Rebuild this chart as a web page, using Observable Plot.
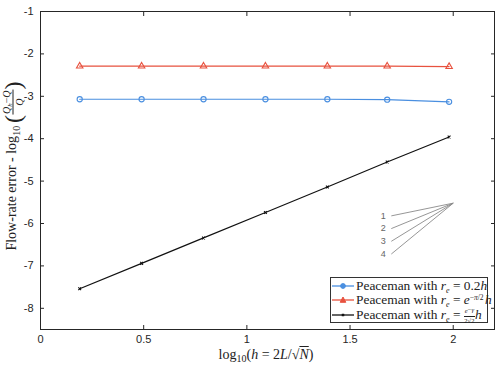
<!DOCTYPE html>
<html>
<head>
<meta charset="utf-8">
<script src="https://cdn.jsdelivr.net/npm/d3@7"></script>
<script src="https://cdn.jsdelivr.net/npm/@observablehq/plot@0.6"></script>
<style>
  html, body { margin: 0; padding: 0; background: #fff; }
  #chart { position: relative; width: 501px; height: 366px; }
  .math { font-family: "Liberation Serif", "DejaVu Serif", serif; color: #222; }
  .math i { font-style: italic; }
  .sb { position: relative; top: 3px; font-size: 8px; line-height: 0; }
  .sp { position: relative; top: -4px; font-size: 7.5px; line-height: 0; margin-right: 1.5px; }
  .frac { display: inline-block; vertical-align: middle; text-align: center; line-height: 1; }
  .frac > span { display: block; }
  .frac > span.num { border-bottom: 0.8px solid #222; padding: 0 1px 1px; }
  .frac > span.den { padding-top: 1px; }
  #ylab { position: absolute; left: 13px; top: 166px; transform: translate(-50%, -50%) rotate(-90deg); white-space: nowrap; font-size: 14px; }
  #xlab { position: absolute; left: 266px; top: 355px; transform: translate(-50%, -50%); white-space: nowrap; font-size: 14px; }
  #legend { position: absolute; left: 330px; top: 277px; width: 158px; height: 46px; border: 1px solid #333; background: #fff; box-sizing: border-box; font-size: 13.4px; }
  .row { position: absolute; left: 1px; height: 14px; line-height: 14px; white-space: nowrap; }
  .row svg { vertical-align: middle; margin-right: 2px; position: relative; top: -1px; }
</style>
</head>
<body>
<div id="chart"></div>
<script>
// grid sizes h, in log10
const xs = [0.19, 0.49, 0.79, 1.09, 1.39, 1.68, 1.98];
// log10 of the relative flow-rate error for each well-radius choice
const errA = [-3.07, -3.07, -3.07, -3.07, -3.07, -3.08, -3.13];  // r_e = 0.2h
const errB = [-2.29, -2.29, -2.29, -2.29, -2.29, -2.29, -2.30];  // r_e = e^{-pi/2} h
const errC = [-7.54, -6.94, -6.34, -5.74, -5.14, -4.55, -3.96];  // r_e = e^{-gamma}/(2 sqrt 2) h
const seriesNames = ["A", "B", "C"];
const seriesColors = ["#4a8fe0", "#e8523f", "#111111"];
const seriesSymbols = ["circle", "triangle", "times"];
const symbolSizes = [2.6, 2.4, 1.4];

const xTicks = [0, 0.5, 1, 1.5, 2];
const yTicks = [-8, -7, -6, -5, -4, -3, -2, -1];

// reference slopes drawn as a fan ending at one apex
const slopes = [1, 2, 3, 4];
const apex = {x: 2.0, y: -5.52};
const run = 0.3;

const rows = [];
[errA, errB, errC].forEach((ys, k) => ys.forEach((y, i) => rows.push({s: seriesNames[k], x: xs[i], y})));
const fan = slopes.map(s => ({s, x1: apex.x - run, y1: apex.y - s * run, x2: apex.x, y2: apex.y}));

const fmt = d => String(d);
const axisStyle = {fontSize: 11, fontFamily: "Liberation Sans, Arial, sans-serif", color: "#262626"};

const plot = Plot.plot({
  width: 501,
  height: 366,
  marginLeft: 40,
  marginRight: 7,
  marginTop: 11,
  marginBottom: 37,
  style: {background: "#fff", fontFamily: "Liberation Sans, Arial, sans-serif", fontSize: "11px", color: "#262626"},
  x: {domain: [0, 2.2], label: null},
  y: {domain: [-8.5, -1], label: null},
  color: {domain: seriesNames, range: seriesColors},
  symbol: {domain: seriesNames, range: seriesSymbols},
  marks: [
    Plot.axisX({ticks: xTicks, tickSize: -4, tickPadding: 10, tickFormat: fmt, anchor: "bottom", label: null, ...axisStyle}),
    Plot.axisX({ticks: xTicks, tickSize: -4, tickFormat: () => "", anchor: "top", label: null}),
    Plot.axisY({ticks: yTicks, tickSize: -4, tickPadding: 11, tickFormat: fmt, anchor: "left", label: null, ...axisStyle}),
    Plot.axisY({ticks: yTicks, tickSize: -4, tickFormat: () => "", anchor: "right", label: null}),
    Plot.frame({stroke: "#262626", strokeWidth: 1}),
    Plot.link(fan, {x1: "x1", y1: "y1", x2: "x2", y2: "y2", stroke: "#8a8a8a", strokeWidth: 0.9}),
    Plot.text(fan, {x: "x1", y: "y1", text: d => String(d.s), dx: -8, fill: "#666", fontSize: 9}),
    Plot.line(rows, {x: "x", y: "y", z: "s", stroke: "s", strokeWidth: 1.2}),
    ...seriesNames.map((name, k) =>
      Plot.dot(rows.filter(d => d.s === name), {x: "x", y: "y", stroke: "s", symbol: "s", r: symbolSizes[k], strokeWidth: 1.1, fill: "none"}))
  ]
});

const chart = document.getElementById("chart");
chart.appendChild(plot);

const re = `<i>r</i><span class="sb"><i>e</i></span>`;
const overlay = document.createElement("div");
overlay.innerHTML = `
  <div id="ylab" class="math">Flow-rate error - log<span class="sb" style="font-size:10px">10</span>&thinsp;<span style="font-size:24px;vertical-align:middle;font-weight:300">(</span><span class="frac" style="font-size:10px"><span class="num"><i>Q</i><span style="font-size:7px;position:relative;top:2px"><i>h</i></span>&minus;<i>Q</i></span><span class="den"><i>Q</i></span></span><span style="font-size:24px;vertical-align:middle;font-weight:300">)</span></div>
  <div id="xlab" class="math">log<span class="sb" style="font-size:10px">10</span>(<i>h</i> = 2<i>L</i>/&radic;<span style="text-decoration:overline"><i>N</i></span>)</div>
  <div id="legend" class="math">
    <div class="row" style="top:1px"><svg width="22" height="10"><line x1="0" y1="5" x2="22" y2="5" stroke="${seriesColors[0]}" stroke-width="1.3"/><circle cx="11" cy="5" r="2.4" fill="${seriesColors[0]}" stroke="${seriesColors[0]}"/></svg>Peaceman with ${re} = 0.2<i>h</i></div>
    <div class="row" style="top:15px"><svg width="22" height="10"><line x1="0" y1="5" x2="22" y2="5" stroke="${seriesColors[1]}" stroke-width="1.3"/><path d="M11,2L13.8,7.3L8.2,7.3Z" fill="${seriesColors[1]}" stroke="${seriesColors[1]}"/></svg>Peaceman with ${re} = <i>e</i><span class="sp">&minus;<i>&pi;</i>/2</span><i>h</i></div>
    <div class="row" style="top:30px"><svg width="22" height="10"><line x1="0" y1="5" x2="22" y2="5" stroke="${seriesColors[2]}" stroke-width="1.3"/><path d="M9.8,3.8L12.2,6.2M12.2,3.8L9.8,6.2" stroke="${seriesColors[2]}" stroke-width="1.2"/></svg>Peaceman with ${re} = <span class="frac" style="font-size:6.5px"><span class="num"><i>e</i><span style="position:relative;top:-1px">&minus;<i>&gamma;</i></span></span><span class="den">2&radic;2</span></span><i>h</i></div>
  </div>`;
chart.appendChild(overlay);
</script>
</body>
</html>
